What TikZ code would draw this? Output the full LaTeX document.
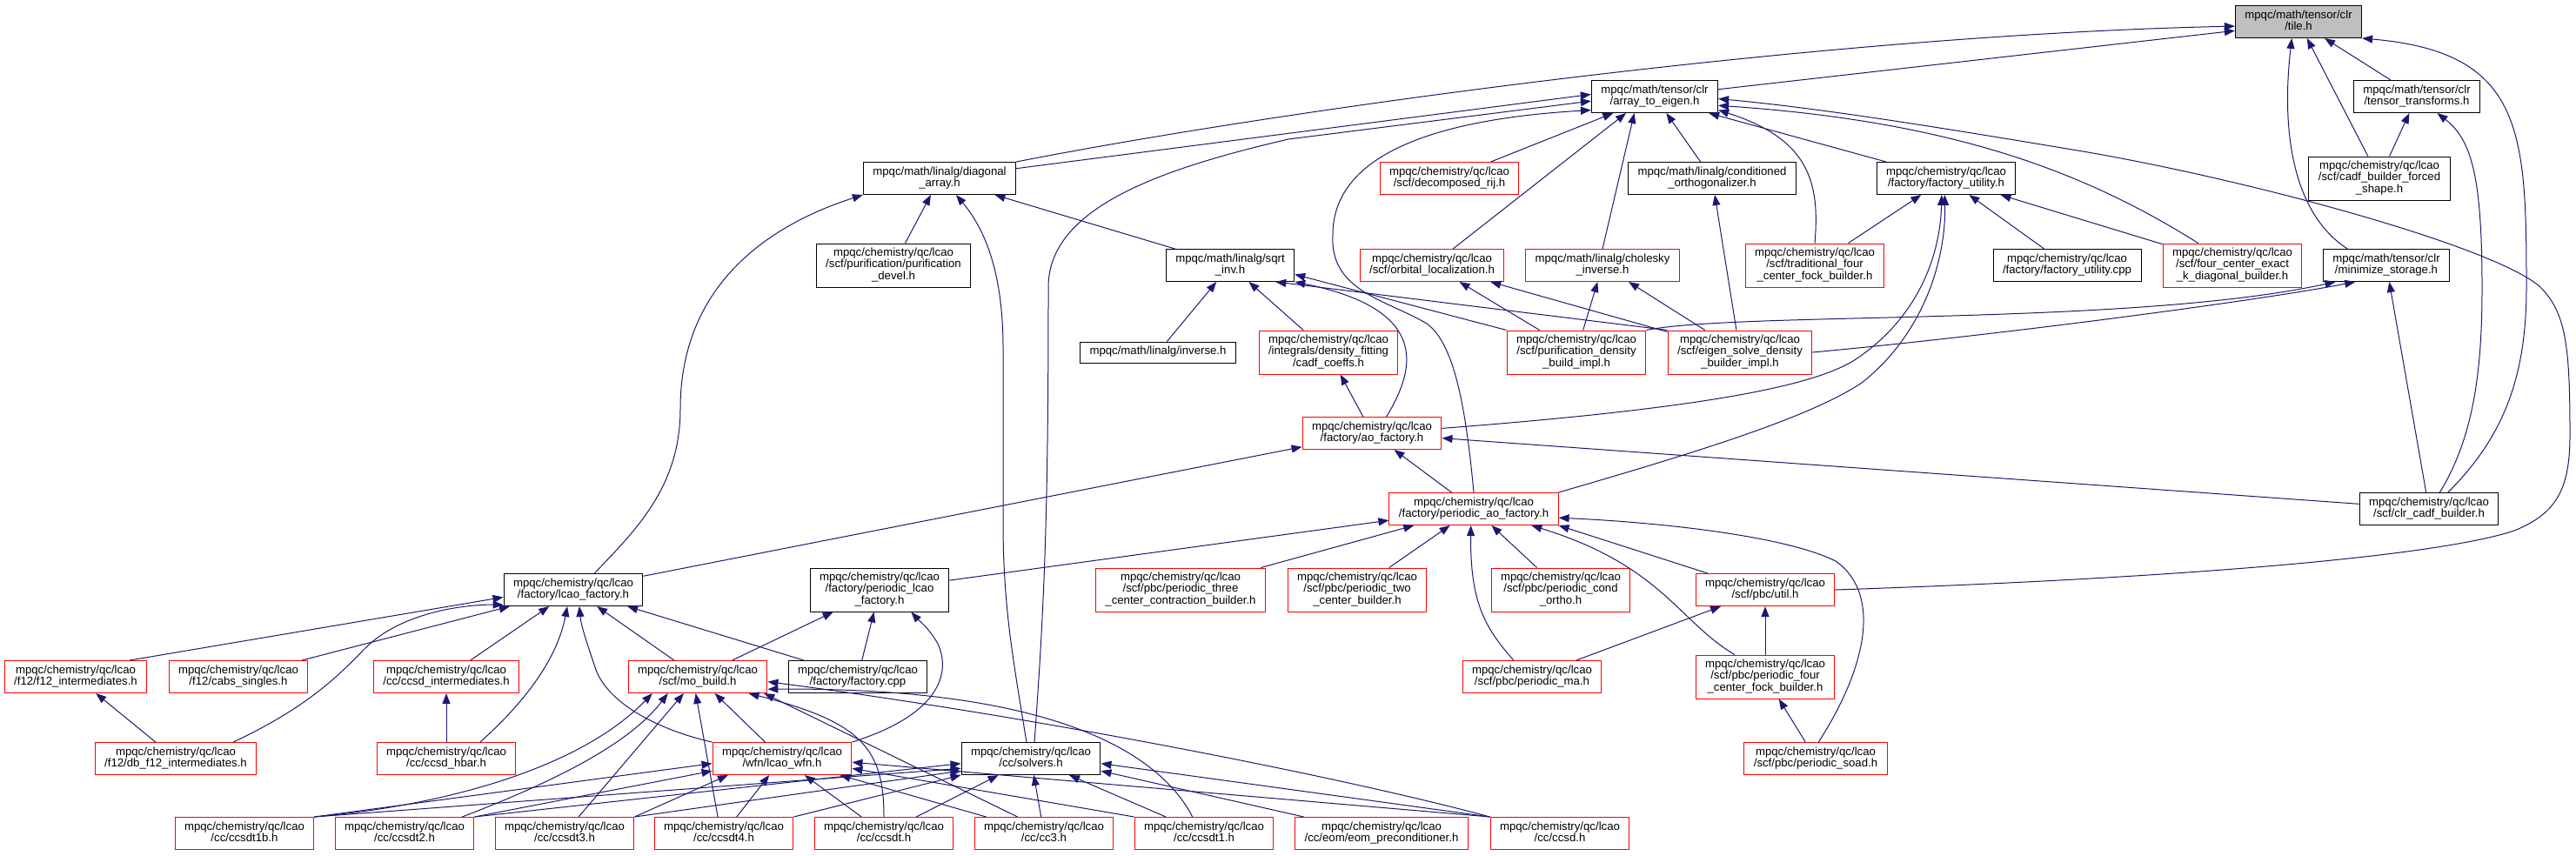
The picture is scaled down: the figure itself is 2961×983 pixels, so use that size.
\documentclass[tikz,border=0pt]{standalone}
\usepackage{fontspec}
\setmainfont{Liberation Sans}
\usetikzlibrary{arrows.meta}
\definecolor{edgeblue}{RGB}{25,25,112}
\definecolor{curgray}{RGB}{191,191,191}
\newcommand{\lbl}[1]{\begin{tabular}{@{}c@{}}#1\end{tabular}}
\newcommand{\lcao}{mpqc/chemistry/qc/lcao\hfill\\}
\newcommand{\tclr}{mpqc/math/tensor/clr\hfill\\}

\begin{document}
\begin{tikzpicture}[x=1pt,y=-1pt,
  hfile/.style={draw=black,line width=1pt,fill=white,inner xsep=11pt,inner ysep=0pt,
    minimum height=37pt,font=\fontsize{13.2}{13}\selectfont},
  hred/.style={hfile,draw=red},
  hcur/.style={hfile,fill=curgray},
  tall/.style={minimum height=50pt},
  low/.style={minimum height=24pt},
  ar/.style={-{Triangle[length=12pt,width=9pt]},draw=edgeblue,line width=1pt}]
\useasboundingbox (0,0) rectangle (2961,983);
\node[hcur] (tile) at (2642,25) {\lbl{\tclr/tile.h}};
\node[hfile] (a2e) at (1902,111) {\lbl{\tclr/array\_to\_eigen.h}};
\node[hfile] (tt) at (2778,111) {\lbl{\tclr/tensor\_transforms.h}};
\node[hfile] (diag) at (1080,205) {\lbl{mpqc/math/linalg/diagonal\hfill\\\_array.h}};
\node[hred] (rij) at (1666,205) {\lbl{\lcao/scf/decomposed\_rij.h}};
\node[hfile] (corth) at (1968,205) {\lbl{mpqc/math/linalg/conditioned\hfill\\\_orthogonalizer.h}};
\node[hfile] (futil) at (2237,205) {\lbl{\lcao/factory/factory\_utility.h}};
\node[hfile,tall] (forced) at (2735,205) {\lbl{\lcao/scf/cadf\_builder\_forced\hfill\\\_shape.h}};
\node[hfile,tall] (devel) at (1027,305) {\lbl{\lcao/scf/purification/purification\hfill\\\_devel.h}};
\node[hfile] (sqrtinv) at (1414,305) {\lbl{mpqc/math/linalg/sqrt\hfill\\\_inv.h}};
\node[hred] (orbloc) at (1646,305) {\lbl{\lcao/scf/orbital\_localization.h}};
\node[hred] (chol) at (1842,305) {\lbl{mpqc/math/linalg/cholesky\hfill\\\_inverse.h}};
\node[hred,tall] (trad) at (2086,305) {\lbl{\lcao/scf/traditional\_four\hfill\\\_center\_fock\_builder.h}};
\node[hfile] (futilcpp) at (2376,305) {\lbl{\lcao/factory/factory\_utility.cpp}};
\node[hred,tall] (exact) at (2566,305) {\lbl{\lcao/scf/four\_center\_exact\hfill\\\_k\_diagonal\_builder.h}};
\node[hfile] (minstor) at (2743,305) {\lbl{\tclr/minimize\_storage.h}};
\node[hfile,low] (inverse) at (1331,405) {\lbl{mpqc/math/linalg/inverse.h}};
\node[hred,tall] (coeffs) at (1527,405) {\lbl{\lcao/integrals/density\_fitting\hfill\\/cadf\_coeffs.h}};
\node[hred,tall] (purdens) at (1812,405) {\lbl{\lcao/scf/purification\_density\hfill\\\_build\_impl.h}};
\node[hred,tall] (eigsolve) at (2000,405) {\lbl{\lcao/scf/eigen\_solve\_density\hfill\\\_builder\_impl.h}};
\node[hred] (aofac) at (1577,498) {\lbl{\lcao/factory/ao\_factory.h}};
\node[hred] (paofac) at (1694,585) {\lbl{\lcao/factory/periodic\_ao\_factory.h}};
\node[hfile] (clrcadf) at (2792,585) {\lbl{\lcao/scf/clr\_cadf\_builder.h}};
\node[hfile] (lcaofac) at (659,678) {\lbl{\lcao/factory/lcao\_factory.h}};
\node[hfile,tall] (plcaofac) at (1011,678) {\lbl{\lcao/factory/periodic\_lcao\hfill\\\_factory.h}};
\node[hred,tall] (three) at (1357,678) {\lbl{\lcao/scf/pbc/periodic\_three\hfill\\\_center\_contraction\_builder.h}};
\node[hred,tall] (two) at (1560,678) {\lbl{\lcao/scf/pbc/periodic\_two\hfill\\\_center\_builder.h}};
\node[hred,tall] (condortho) at (1794,678) {\lbl{\lcao/scf/pbc/periodic\_cond\hfill\\\_ortho.h}};
\node[hred] (util) at (2029,678) {\lbl{\lcao/scf/pbc/util.h}};
\node[hred] (f12) at (87,778) {\lbl{\lcao/f12/f12\_intermediates.h}};
\node[hred] (cabs) at (274,778) {\lbl{\lcao/f12/cabs\_singles.h}};
\node[hred] (ccsdint) at (513,778) {\lbl{\lcao/cc/ccsd\_intermediates.h}};
\node[hred] (mobuild) at (802,778) {\lbl{\lcao/scf/mo\_build.h}};
\node[hfile] (factcpp) at (986,778) {\lbl{\lcao/factory/factory.cpp}};
\node[hred] (pma) at (1761,778) {\lbl{\lcao/scf/pbc/periodic\_ma.h}};
\node[hred,tall] (pfour) at (2029,778) {\lbl{\lcao/scf/pbc/periodic\_four\hfill\\\_center\_fock\_builder.h}};
\node[hred] (dbf12) at (202,872) {\lbl{\lcao/f12/db\_f12\_intermediates.h}};
\node[hred] (hbar) at (513,872) {\lbl{\lcao/cc/ccsd\_hbar.h}};
\node[hred] (wfn) at (899,872) {\lbl{\lcao/wfn/lcao\_wfn.h}};
\node[hfile] (solvers) at (1185,872) {\lbl{\lcao/cc/solvers.h}};
\node[hred] (soad) at (2087,872) {\lbl{\lcao/scf/pbc/periodic\_soad.h}};
\foreach \n/\x in {ccsdt1b/281,ccsdt2/465,ccsdt3/649,ccsdt4/832,ccsdt/1016,cc3/1200,ccsdt1/1384,ccsd/1793}
  \node[hred] (\n) at (\x,958) {\lbl{\lcao/cc/\n.h}};
\node[hred] (eom) at (1588,958) {\lbl{\lcao/cc/eom/eom\_preconditioner.h}};

\foreach \s/\t in {forced/tile,tt/tile,forced/tt,clrcadf/minstor,rij/a2e,corth/a2e,
  devel/diag,sqrtinv/diag,futilcpp/futil,exact/futil,trad/futil,inverse/sqrtinv,coeffs/sqrtinv,
  purdens/orbloc,eigsolve/orbloc,purdens/chol,eigsolve/chol,eigsolve/corth,
  aofac/coeffs,lcaofac/aofac,paofac/aofac,clrcadf/aofac,
  plcaofac/paofac,three/paofac,two/paofac,condortho/paofac,
  cabs/lcaofac,ccsdint/lcaofac,mobuild/lcaofac,factcpp/lcaofac,
  mobuild/plcaofac,factcpp/plcaofac,dbf12/f12,hbar/ccsdint,
  pma/util,pfour/util,soad/pfour,wfn/mobuild,ccsdt3/mobuild,
  ccsdt4/wfn,ccsdt/wfn,cc3/wfn,ccsdt/solvers,cc3/solvers,ccsdt1/solvers}
  \draw[ar] (\s) -- (\t);
\draw[ar] (a2e) -- (tile.-172);
\draw[ar] (diag) -- (a2e.178);
\draw[ar] (futil) -- (a2e.-17);
\draw[ar] (orbloc) -- (a2e.-150);
\draw[ar] (chol.north) -- (a2e.-141);
\draw[ar] (f12.17) -- (lcaofac.-174);
\draw[ar] (purdens.north west) -- (sqrtinv.-8);
\draw[ar] (eigsolve.north west) -- (sqrtinv.-20);
\draw[ar] (util.164) -- (paofac.-11);
\draw[ar] (ccsdt4.110) -- (mobuild.-97);
\draw[ar] (cc3.148) -- (mobuild.-14);
\draw[ar] (ccsdt1b.north east) -- (wfn.-176);
\draw[ar] (ccsdt2.north east) -- (wfn.-170);
\draw[ar] (ccsdt3.north east) -- (wfn.-163);
\draw[ar] (ccsdt1.north west) -- (wfn.-8);
\draw[ar] (ccsd.north west) -- (wfn.-3);
\draw[ar] (ccsdt1b.north east) -- (solvers.-172);
\draw[ar] (ccsdt2.north east) -- (solvers.-176);
\draw[ar] (ccsdt3.north east) -- (solvers.-170);
\draw[ar] (ccsdt4.north east) -- (solvers.south west);
\draw[ar] (eom.168) -- (solvers.-10);
\draw[ar] (ccsd.north west) -- (solvers.-4);
\draw[ar] (diag.north east) .. controls (1480,125) and (2100,40) .. (tile.-176);
\draw[ar] (minstor.157) .. controls (2635,245) and (2622,150) .. (tile.-112);
\draw[ar] (clrcadf.41) .. controls (2880,500) and (2904,430) .. (2904,330) .. controls (2904,150) and (2900,60) .. (tile.south east);
\draw[ar] (clrcadf.57) .. controls (2845,500) and (2853,420) .. (2853,330) .. controls (2853,200) and (2840,160) .. (tt.-39);
\draw[ar] (trad.north) .. controls (2092,210) and (2080,160) .. (a2e.-12);
\draw[ar] (exact.147) .. controls (2400,200) and (2250,140) .. (a2e.-8);
\draw[ar] (util.east) .. controls (2500,665) and (2800,640) .. (2890,610) .. controls (2940,590) and (2954,560) .. (2954,500)
  .. controls (2954,400) and (2950,360) .. (2920,330) .. controls (2870,285) and (2600,210) .. (2400,175)
  .. controls (2250,150) and (2100,125) .. (a2e.-2);
\draw[ar] (solvers.78) .. controls (1200,700) and (1205,600) .. (1205,330) .. controls (1205,240) and (1330,195) .. (1481,160) -- (a2e.-176);
\draw[ar] (paofac.north) .. controls (1685,470) and (1672,395) .. (1640,372) .. controls (1595,345) and (1528,335) .. (1532,270)
  .. controls (1532,200) and (1600,140) .. (a2e.-168);
\draw[ar] (solvers.105) .. controls (1165,760) and (1153,700) .. (1153,600) -- (1153,400) .. controls (1153,300) and (1125,255) .. (diag.-45);
\draw[ar] (lcaofac.38) .. controls (730,610) and (782,560) .. (782,470) .. controls (782,330) and (880,260) .. (diag.south west);
\draw[ar] (aofac.4) .. controls (1950,470) and (2080,445) .. (2130,415) .. controls (2200,370) and (2230,300) .. (futil.-105);
\draw[ar] (paofac.north east) .. controls (1950,520) and (2080,480) .. (2140,440) .. controls (2210,385) and (2237,300) .. (futil.-95);
\draw[ar] (aofac.49) .. controls (1630,420) and (1640,355) .. (sqrtinv.south east);
\draw[ar] (purdens.north east) .. controls (2000,358) and (2450,375) .. (minstor.-162);
\draw[ar] (eigsolve.east) .. controls (2300,385) and (2600,345) .. (minstor.-152);
\draw[ar] (pma.138) .. controls (1705,720) and (1690,690) .. (paofac.-100);
\draw[ar] (pfour.144) .. controls (1930,715) and (1910,650) .. (paofac.-16);
\draw[ar] (soad.80) .. controls (2150,760) and (2160,680) .. (2110,645) .. controls (2050,615) and (1900,600) .. (paofac.-6);
\draw[ar] (dbf12.16) .. controls (360,810) and (395,770) .. (420,745) .. controls (460,705) and (530,695) .. (lcaofac.-168);
\draw[ar] (hbar.26) .. controls (600,810) and (640,760) .. (lcaofac.-110);
\draw[ar] (wfn.north west) .. controls (760,840) and (700,810) .. (685,770) .. controls (675,740) and (668,720) .. (lcaofac.-70);
\draw[ar] (wfn.north east) .. controls (1085,820) and (1092,770) .. (1078,740) .. controls (1068,722) and (1055,712) .. (plcaofac.-35);
\draw[ar] (ccsdt1b.north east) .. controls (520,925) and (670,880) .. (mobuild.-160);
\draw[ar] (ccsdt2.16) .. controls (620,905) and (720,860) .. (mobuild.-151);
\draw[ar] (ccsdt.north) .. controls (1016,860) and (990,830) .. (mobuild.-18);
\draw[ar] (ccsdt1.125) .. controls (1330,860) and (1200,790) .. (mobuild.-10);
\draw[ar] (ccsd.north west) .. controls (1550,895) and (1200,825) .. (mobuild.-4);
\end{tikzpicture}
\end{document}
